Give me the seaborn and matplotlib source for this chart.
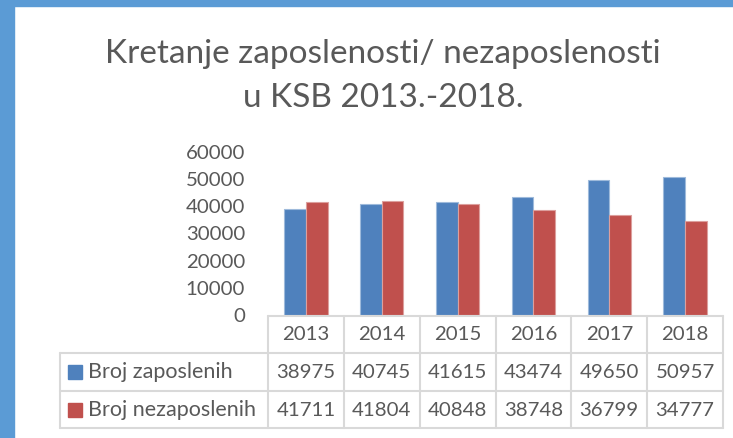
import numpy as np
import matplotlib.pyplot as plt
import matplotlib.transforms as mtransforms
from matplotlib.patches import Rectangle
from matplotlib.lines import Line2D
import pandas as pd
import seaborn as sns

godine = ['2013', '2014', '2015', '2016', '2017', '2018']
serije = ['Broj zaposlenih', 'Broj nezaposlenih']
zaposleni = [38975, 40745, 41615, 43474, 49650, 50957]
nezaposleni = [41711, 41804, 40848, 38748, 36799, 34777]
yticks = [0, 10000, 20000, 30000, 40000, 50000, 60000]
naslov = ['Kretanje zaposlenosti/ nezaposlenosti', 'u KSB 2013.-2018.']

plava = '#4F81BD'
crvena = '#C0504D'
siva_txt = '#595959'
siva_lin = '#D9D9D9'

df = pd.DataFrame({
    'Godina': godine * 2,
    'Serija': [serije[0]] * 6 + [serije[1]] * 6,
    'Vrijednost': zaposleni + nezaposleni,
})

sns.set_style('white')
plt.rcParams['font.family'] = ['Lato', 'DejaVu Sans']

W, H = 733, 438
fig = plt.figure(figsize=(W / 100, H / 100), dpi=100)
fig.patch.set_facecolor('white')


def fx(px):
    return px / W


def fy(px):
    return 1 - px / H


ax = fig.add_axes([fx(268), fy(315), (723 - 268) / W, (315 - 152) / H])
sns.barplot(data=df, x='Godina', y='Vrijednost', hue='Serija',
            palette=[plava, crvena], width=0.57, saturation=1,
            legend=False, ax=ax)
for p in ax.patches:
    fc = p.get_facecolor()
    p.set_edgecolor(tuple(0.55 * np.array(fc[:3]) + 0.45) + (1,))
    p.set_linewidth(0.8)

ax.set_xlim(-0.5, 5.5)
ax.set_ylim(0, 60000)
ax.set_yticks(yticks)
ax.set_yticklabels([str(v) for v in yticks])
ax.set_xticks([])
ax.set_xlabel('')
ax.set_ylabel('')
ax.tick_params(axis='y', length=0, pad=16.5, labelsize=14.7, labelcolor=siva_txt)
sns.despine(ax=ax, left=True, bottom=True)

# tablica s podacima ispod grafa
blend = mtransforms.blended_transform_factory(ax.transData, fig.transFigure)
x_desno = (ax.transData + fig.transFigure.inverted()).transform((5.5, 0))[0]
lw = 1.5

ax.add_line(Line2D([-0.5, 5.5], [fy(316), fy(316)], transform=blend,
                   color=siva_lin, lw=lw, clip_on=False))
for i in range(7):
    ax.add_line(Line2D([i - 0.5, i - 0.5], [fy(316), fy(428)], transform=blend,
                       color=siva_lin, lw=lw, clip_on=False))
for ypx in [353, 391, 428]:
    fig.add_artist(Line2D([fx(60), x_desno], [fy(ypx), fy(ypx)],
                          transform=fig.transFigure, color=siva_lin, lw=lw))
fig.add_artist(Line2D([fx(60), fx(60)], [fy(353), fy(428)],
                      transform=fig.transFigure, color=siva_lin, lw=lw))

for i, g in enumerate(godine):
    ax.text(i, fy(334.5), g, transform=blend, ha='center', va='center',
            fontsize=14.7, color=siva_txt, clip_on=False)
for red, (vals, boja, yc) in enumerate([(zaposleni, plava, 372), (nezaposleni, crvena, 410)]):
    for i, v in enumerate(vals):
        ax.text(i, fy(yc), str(v), transform=blend, ha='center', va='center',
                fontsize=14.7, color=siva_txt, clip_on=False)
    fig.add_artist(Rectangle((fx(68), fy(yc + 7)), 14 / W, 14 / H,
                             transform=fig.transFigure, color=boja))
    fig.text(fx(88), fy(yc), serije[red], ha='left', va='center',
             fontsize=15.5, color=siva_txt)

# naslov
fig.text(fx(383), fy(63), naslov[0], ha='center', va='baseline',
         fontsize=24, color=siva_txt)
fig.text(fx(383), fy(107), naslov[1], ha='center', va='baseline',
         fontsize=24, color=siva_txt)

# plavi okvir
fig.add_artist(Rectangle((0, 0), 14 / W, 1, transform=fig.transFigure,
                         color='#5B9BD5'))
fig.add_artist(Rectangle((0, fy(6)), 1, 6 / H, transform=fig.transFigure,
                         color='#5B9BD5'))

fig.savefig('out.png', dpi=100)
